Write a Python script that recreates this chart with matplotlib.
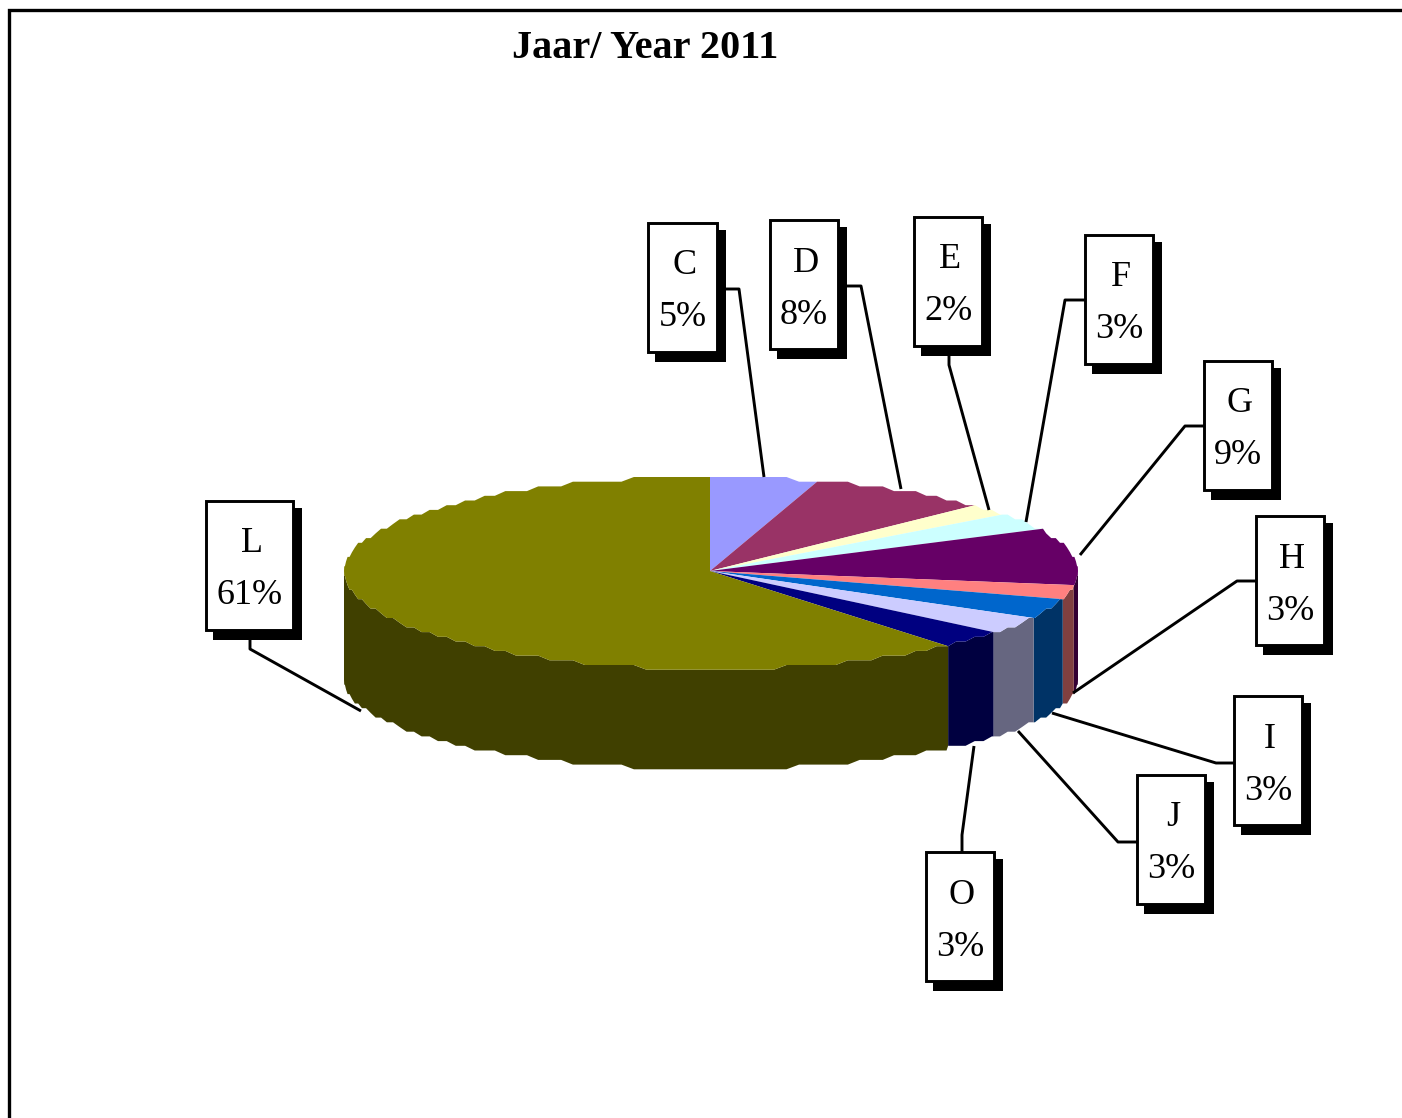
import numpy as np
import matplotlib
matplotlib.use('Agg')
import matplotlib.pyplot as plt
from matplotlib.patches import Polygon, Rectangle

plt.rcParams['font.family'] = ['Liberation Serif', 'DejaVu Serif']

categories = ['C', 'D', 'E', 'F', 'G', 'H', 'I', 'J', 'O', 'L']
shares = [4.7, 8.1, 1.8, 3.4, 9.4, 2.2, 3.3, 3.1, 2.8, 61.2]
pct_labels = ['5%', '8%', '2%', '3%', '9%', '3%', '3%', '3%', '3%', '61%']
top_colors = ['#9999FF', '#993366', '#FFFFCC', '#CCFFFF', '#660066',
              '#FF8080', '#0066CC', '#CCCCFF', '#000080', '#808000']
side_colors = ['#4D4D80', '#4D1A33', '#808066', '#668080', '#330033',
               '#804040', '#003366', '#666680', '#000040', '#404000']

# label boxes: left, top, right, bottom (pixels)
boxes = {'C': (648, 223, 717, 352), 'D': (770, 220, 838, 349), 'E': (914, 217, 982, 346),
         'F': (1085, 235, 1153, 364), 'G': (1204, 361, 1272, 490), 'H': (1256, 516, 1324, 645),
         'I': (1234, 696, 1302, 825), 'J': (1137, 775, 1205, 904), 'O': (926, 852, 994, 981),
         'L': (206, 501, 293, 630)}
leaders = {'C': [(717, 289), (739, 289), (764, 477)], 'D': [(838, 286), (861, 286), (901, 489)],
           'E': [(949, 346), (949, 365), (989, 510)], 'F': [(1085, 300), (1065, 300), (1026, 522)],
           'G': [(1204, 426), (1185, 426), (1080, 555)], 'H': [(1256, 581), (1237, 581), (1073, 693)],
           'I': [(1234, 763), (1216, 763), (1052, 713)], 'J': [(1137, 842), (1118, 842), (1018, 731)],
           'O': [(962, 852), (962, 835), (974, 746)], 'L': [(250, 630), (250, 649), (361, 711)]}

CX, CY = 710, 571
RX_R, RX_L = 368, 366
RY_UP, RY_LOW = 94, 98
CY_BOT, RY_BOT = 680, 89
STEP = 4.7  # rough stair steps of the rim


def rim(t):
    # t in degrees, clockwise from the top of the pie
    t = np.radians(t)
    x = CX + np.where(np.sin(t) >= 0, RX_R, RX_L) * np.sin(t)
    ry = np.where(np.cos(t) >= 0, RY_UP, RY_LOW)
    y = CY - ry * np.cos(t)
    y = CY + np.round((y - CY) / STEP) * STEP
    y_bot = CY_BOT - RY_BOT * np.cos(t)
    y_bot = CY_BOT + np.round((y_bot - CY_BOT) / STEP) * STEP
    return x, y, y_bot


def sweep(a, b):
    inner = np.arange(np.ceil(a / 2) * 2, b, 2)
    return np.unique(np.concatenate([[a], inner, [b]]))


fig = plt.figure(figsize=(14.02, 11.18), dpi=100)
ax = fig.add_axes([0, 0, 1, 1])
ax.set_xlim(0, 1402)
ax.set_ylim(1118, 0)
ax.axis('off')

# outer frame, open on the right and bottom
ax.plot([9, 9, 1402], [1118, 10, 10], color='black', lw=2.4, solid_joinstyle='miter')

edges = np.cumsum([0] + shares) / np.sum(shares) * 360

for i in range(len(categories)):
    a, b = edges[i], edges[i + 1]
    # wall, only the front half of the rim shows
    wa, wb = max(a, 90), min(b, 270)
    if wb > wa:
        ts = sweep(wa, wb)
        x, y, y_bot = rim(ts)
        pts = np.column_stack([np.r_[x, x[::-1]], np.r_[y, y_bot[::-1]]])
        ax.add_patch(Polygon(pts, closed=True, fc=side_colors[i], ec='none', zorder=2))

for i in range(len(categories)):
    ts = sweep(edges[i], edges[i + 1])
    x, y, _ = rim(ts)
    pts = np.column_stack([np.r_[CX, x], np.r_[CY, y]])
    ax.add_patch(Polygon(pts, closed=True, fc=top_colors[i], ec='none', zorder=3))

for name, pct in zip(categories, pct_labels):
    l, t, r, b = boxes[name]
    px, py = zip(*leaders[name])
    ax.plot(px, py, color='black', lw=2.1, zorder=4, solid_capstyle='butt')
    ax.add_patch(Rectangle((l + 7, t + 7), r - l + 2, b - t + 3, fc='black', ec='none', zorder=5))
    ax.add_patch(Rectangle((l, t), r - l, b - t, fc='white', ec='black', lw=2.1, zorder=6))
    mid = (l + r) / 2
    ax.text(mid + 2, t + 43, name, fontsize=26, ha='center', va='center', zorder=7)
    ax.text(mid, t + 95, pct, fontsize=26, ha='center', va='center', zorder=7)

ax.text(645, 49, 'Jaar/ Year 2011', fontsize=29, fontweight='bold', ha='center', va='center')

fig.savefig('out.png', dpi=100)
